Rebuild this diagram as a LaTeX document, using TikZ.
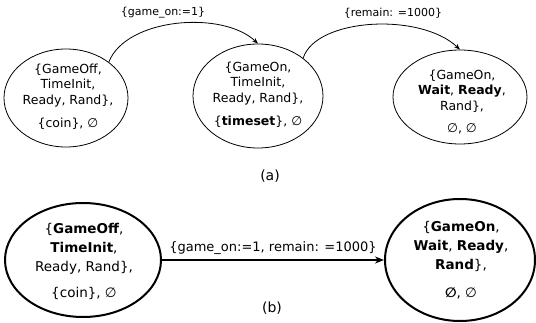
\documentclass[tikz,border=0pt]{standalone}
\usepackage{fontspec}
\setmainfont{DejaVu Sans}
\usetikzlibrary{shapes.geometric,arrows.meta}
\begin{document}
\begin{tikzpicture}[x=1pt,y=-1pt,
  st/.style={ellipse, draw, line width=0.8pt, inner sep=0pt},
  stb/.style={ellipse, draw, line width=2pt, inner sep=0pt},
  txt/.style={align=center, inner sep=0pt, font=\fontsize{12.5}{15.5}\selectfont},
  txtb/.style={align=center, inner sep=0pt, font=\fontsize{13.5}{19}\selectfont},
  lab/.style={inner sep=0pt, font=\fontsize{11}{13}\selectfont},
  captext/.style={inner sep=0pt, font=\fontsize{14}{16}\selectfont},
  arr/.style={line width=0.8pt, -{Stealth[length=6pt,width=4.5pt]}},
  arrb/.style={line width=1.8pt, -{Stealth[length=9pt,width=7pt]}}]
\useasboundingbox (0,0) rectangle (536,323);
% top row
\node[st, minimum width=124pt, minimum height=98pt] (e1) at (66,98) {};
\node[st, minimum width=130pt, minimum height=104pt] (e2) at (258,96) {};
\node[st, minimum width=134pt, minimum height=94pt] (e3) at (460,97) {};
\node[txt] (t1) at (68,97) {\{GameOff,\\ TimeInit,\\ Ready, Rand\},\\[8pt] \{coin\}, ∅};
\node[txt] (t2) at (258,95) {\{GameOn,\\ TimeInit,\\ Ready, Rand\},\\[8pt] \{\textbf{timeset}\}, ∅};
\node[txt] (t3) at (462,102) {\{GameOn,\\ \textbf{Wait}, \textbf{Ready},\\ Rand\},\\[7pt] ∅, ∅};
\draw[arr] (e1.40) .. controls (126,18) and (222,10) .. (e2.north);
\draw[arr] (e2.40) .. controls (316,18) and (420,12) .. (e3.north);
\node[lab] (l1) at (163,13) {\{game\_on:=1\}};
\node[lab] (l2) at (393,13) {\{remain: =1000\}};
\node[captext] (ca) at (270,176) {(a)};
% bottom row
\node[stb, minimum width=156pt, minimum height=114pt] (e4) at (83,260) {};
\node[stb, minimum width=150pt, minimum height=122pt] (e5) at (460,260) {};
\node[txtb] (t4) at (84,261) {\{\textbf{GameOff},\\ \textbf{TimeInit},\\ Ready, Rand\},\\[7pt] \{coin\}, ∅};
\node[txtb] (t5) at (461,260) {\{\textbf{GameOn},\\ \textbf{Wait}, \textbf{Ready},\\ \textbf{Rand}\},\\[9pt] \textbf{∅}, ∅};
\draw[arrb] (e4.east) -- node[above=5pt, inner sep=0pt, font=\fontsize{13}{15}\selectfont] (l3) {\{game\_on:=1, remain: =1000\}} (e5.west);
\node[captext] (cb) at (272,308) {(b)};
\end{tikzpicture}
\end{document}
